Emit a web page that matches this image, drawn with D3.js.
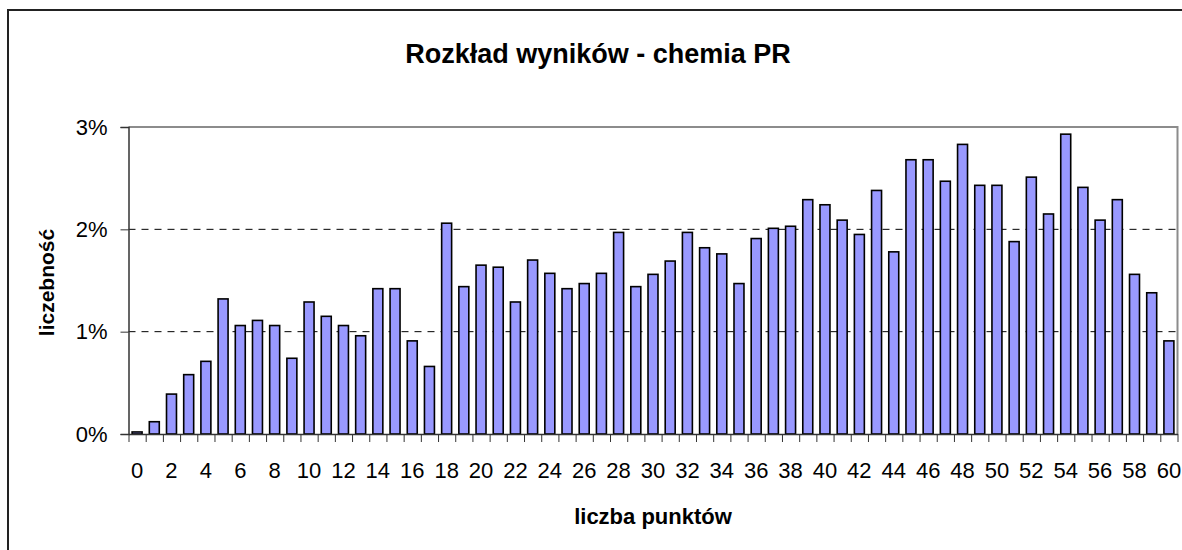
<!DOCTYPE html>
<html>
<head>
<meta charset="utf-8">
<script src="https://cdn.jsdelivr.net/npm/d3@7"></script>
<style>
  body { margin: 0; background: #fff; }
  svg { display: block; font-family: Arial, "Liberation Sans", sans-serif; }
</style>
</head>
<body>
<div id="chart"></div>
<script>
// data
const points = d3.range(0, 61);
const shares = [
  0.0002, 0.0012, 0.0039, 0.0058, 0.0071, 0.0132, 0.0106, 0.0111, 0.0106, 0.0074,
  0.0129, 0.0115, 0.0106, 0.0096, 0.0142, 0.0142, 0.0091, 0.0066, 0.0206, 0.0144,
  0.0165, 0.0163, 0.0129, 0.0170, 0.0157, 0.0142, 0.0147, 0.0157, 0.0197, 0.0144,
  0.0156, 0.0169, 0.0197, 0.0182, 0.0176, 0.0147, 0.0191, 0.0201, 0.0203, 0.0229,
  0.0224, 0.0209, 0.0195, 0.0238, 0.0178, 0.0268, 0.0268, 0.0247, 0.0283, 0.0243,
  0.0243, 0.0188, 0.0251, 0.0215, 0.0293, 0.0241, 0.0209, 0.0229, 0.0156, 0.0138,
  0.0091
];
const yTicks = [0, 0.01, 0.02, 0.03];
const xLabels = d3.range(0, 61, 2);

// constants
const width = 1182;
const height = 550;
const plot = { left: 128.5, right: 1177.5, top: 127, bottom: 434 };

const svg = d3.select("#chart")
.append("svg")
  .attr("width", width)
  .attr("height", height);

// outer chart border (runs off the right and bottom)
svg.append("rect")
  .attr("x", 8)
  .attr("y", 10)
  .attr("width", width + 20)
  .attr("height", height + 20)
  .attr("fill", "#fff")
  .attr("stroke", "#222")
  .attr("stroke-width", 2);

const x = d3.scaleBand()
  .domain(points)
  .range([plot.left, plot.right])
  .paddingInner(0.42)
  .paddingOuter(0.21);

const xEdge = d3.scaleLinear()
  .domain([0, points.length])
  .range([plot.left, plot.right]);

const y = d3.scaleLinear()
  .domain([0, 0.03])
  .range([plot.bottom, plot.top]);

// plot area frame (top + right, grey)
svg.append("path")
  .attr("d", `M${plot.left},${plot.top}H${plot.right}V${plot.bottom}`)
  .attr("fill", "none")
  .attr("stroke", "#8c8c8c")
  .attr("stroke-width", 2);

// dashed gridlines
svg.selectAll("line.grid")
  .data(yTicks.filter(d => d > 0 && d < 0.03))
  .enter()
  .append("line")
  .attr("class", "grid")
  .attr("x1", plot.left)
  .attr("x2", plot.right)
  .attr("y1", d => y(d))
  .attr("y2", d => y(d))
  .attr("stroke", "#000")
  .attr("stroke-width", 1)
  .attr("stroke-dasharray", "7,6");

// bars
svg.selectAll("rect.bar")
  .data(points)
  .enter()
  .append("rect")
  .attr("class", "bar")
  .attr("x", d => x(d))
  .attr("y", d => y(shares[d]))
  .attr("width", x.bandwidth())
  .attr("height", d => plot.bottom - y(shares[d]))
  .attr("fill", "#9999ff")
  .attr("stroke", "#000")
  .attr("stroke-width", 1.6);

// y axis
const yAxis = svg.append("g")
  .attr("transform", `translate(${plot.left},0)`)
  .call(d3.axisLeft(y).tickValues(yTicks).tickFormat(d3.format(".0%")).tickSize(8).tickPadding(13));
yAxis.select(".domain").attr("stroke", "#333").attr("stroke-width", 1.5);
yAxis.selectAll(".tick line").attr("stroke", "#333");
yAxis.selectAll("text").attr("font-size", 22).attr("fill", "#000").attr("font-family", "Arial, 'Liberation Sans', sans-serif");

// x axis: ticks between categories
const xAxis = svg.append("g")
  .attr("transform", `translate(0,${plot.bottom})`)
  .call(d3.axisBottom(xEdge).tickValues(d3.range(0, points.length + 1)).tickFormat("").tickSize(8).tickSizeOuter(0));
xAxis.select(".domain").attr("stroke", "#333").attr("stroke-width", 1.5);
xAxis.selectAll(".tick line").attr("stroke", "#333");

// x labels every 2 points
svg.selectAll("text.xlab")
  .data(xLabels)
  .enter()
  .append("text")
  .attr("class", "xlab")
  .attr("x", d => x(d) + x.bandwidth() / 2)
  .attr("y", 478)
  .attr("text-anchor", "middle")
  .attr("font-size", 22)
  .text(d => d);

// titles
svg.append("text")
  .attr("x", 598)
  .attr("y", 63)
  .attr("text-anchor", "middle")
  .attr("font-size", 27)
  .attr("font-weight", "bold")
  .text("Rozkład wyników - chemia PR");

svg.append("text")
  .attr("transform", `translate(54,${(plot.top + plot.bottom) / 2 + 2}) rotate(-90)`)
  .attr("text-anchor", "middle")
  .attr("font-size", 21)
  .attr("font-weight", "bold")
  .text("liczebność");

svg.append("text")
  .attr("x", (plot.left + plot.right) / 2)
  .attr("y", 524)
  .attr("text-anchor", "middle")
  .attr("font-size", 22)
  .attr("font-weight", "bold")
  .text("liczba punktów");
</script>
</body>
</html>
